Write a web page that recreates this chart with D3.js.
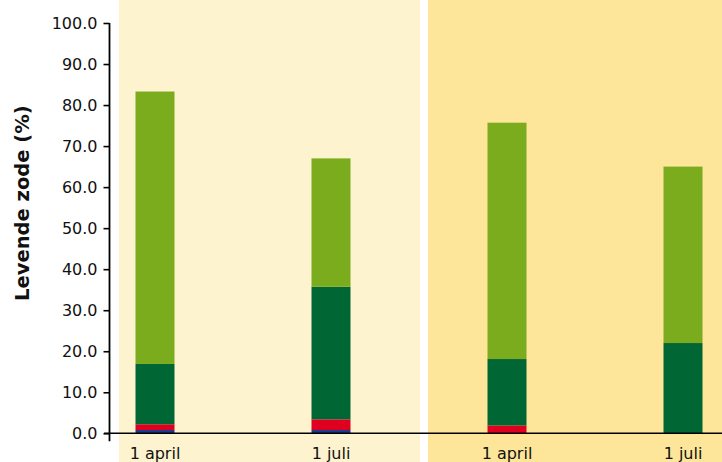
<!DOCTYPE html>
<html><head><meta charset="utf-8">
<script src="https://cdn.jsdelivr.net/npm/d3@7"></script>
<style>body{margin:0;background:#fff}svg{display:block}</style>
</head><body>
<svg id="c" width="722" height="462"></svg>
<script>
const groups = ["g1", "g2"];
const categories = ["g1-apr", "g1-jul", "g2-apr", "g2-jul"];
const categoryGroup = ["g1", "g1", "g2", "g2"];
const xLabels = ["1 april", "1 juli", "1 april", "1 juli"];
const seriesNames = ["blauw", "rood", "donkergroen", "lichtgroen"];
const blue = [0.8, 0.8, 0, 0];
const red = [1.4, 2.6, 1.9, 0];
const darkGreen = [14.7, 32.3, 16.2, 22.0];
const lightGreen = [66.4, 31.3, 57.6, 43.0];
const yTicks = [0, 10, 20, 30, 40, 50, 60, 70, 80, 90, 100];
const yTitle = "Levende zode (%)";

const colors = ["#1b3a8c", "#de001e", "#006633", "#7aac1e"];
const groupColors = ["#fef3cf", "#fde699"];

const W = 722, H = 462;
const svg = d3.select("#c");
const y = d3.scaleLinear().domain([0, 100]).range([433.3, 23]);
const xg = d3.scaleBand().domain(groups).range([119, 729]).paddingInner(8 / 309);
const x = d3.scalePoint().domain(categories).range([155, 683]);
const barW = 39;

const rows = categories.map((c, i) => ({cat: c, blauw: blue[i], rood: red[i], donkergroen: darkGreen[i], lichtgroen: lightGreen[i]}));
const stack = d3.stack().keys(seriesNames)(rows);

// background bands
svg.append("g").selectAll("rect").data(groups).join("rect")
  .attr("x", d => xg(d)).attr("y", 0)
  .attr("width", xg.bandwidth()).attr("height", H)
  .attr("fill", (d, i) => groupColors[i]);

// bars
svg.append("g").selectAll("g").data(stack).join("g")
  .attr("fill", (d, i) => colors[i])
  .selectAll("rect").data(d => d).join("rect")
  .attr("x", d => x(d.data.cat) - barW / 2)
  .attr("width", barW)
  .attr("y", d => y(d[1]))
  .attr("height", d => Math.max(0, y(d[0]) - y(d[1])));

// y axis
const yAxis = svg.append("g").attr("transform", "translate(109.5,0)")
  .call(d3.axisLeft(y).tickValues(yTicks).tickFormat(d3.format(".1f")).tickSize(6).tickPadding(6).tickSizeOuter(0));
yAxis.select(".domain").remove();
yAxis.selectAll(".tick line").attr("stroke", "#000").attr("stroke-width", 1.6);
yAxis.selectAll(".tick text").attr("font-family", "DejaVu Sans").attr("font-size", 16).attr("fill", "#111");
svg.append("line").attr("x1", 109.5).attr("x2", 109.5).attr("y1", y(100)).attr("y2", y(0) + 8)
  .attr("stroke", "#000").attr("stroke-width", 1.8);

// x baseline
svg.append("line").attr("x1", 104).attr("x2", W).attr("y1", y(0)).attr("y2", y(0))
  .attr("stroke", "#000").attr("stroke-width", 1.5);

// x labels
svg.append("g").selectAll("text").data(categories).join("text")
  .attr("x", d => x(d)).attr("y", 459)
  .attr("text-anchor", "middle")
  .attr("font-family", "DejaVu Sans").attr("font-size", 16).attr("fill", "#111")
  .text((d, i) => xLabels[i]);

// y title
svg.append("text")
  .attr("transform", `translate(29,${(y(0) + y(100)) / 2 - 25}) rotate(-90)`)
  .attr("text-anchor", "middle")
  .attr("font-family", "DejaVu Sans").attr("font-weight", "bold").attr("font-size", 19.5).attr("fill", "#111")
  .text(yTitle);
</script>
</body></html>
